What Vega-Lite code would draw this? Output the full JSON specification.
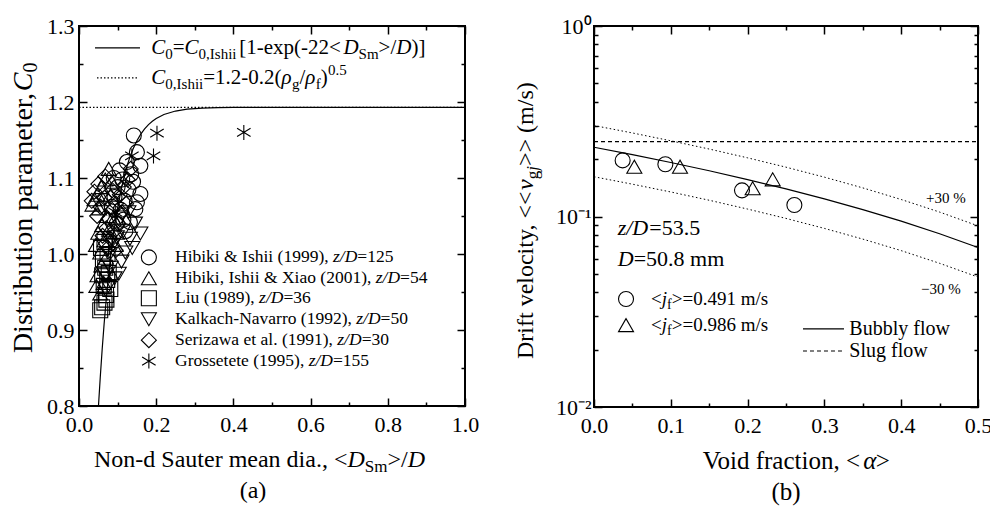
{
"$schema":"https://vega.github.io/schema/vega-lite/v6.json",
"background":"white",
"padding":{"left":8,"top":14,"right":5,"bottom":0},
"spacing":33,
"config":{
  "font":"Liberation Serif",
  "view":{"stroke":"black","strokeWidth":2},
  "axis":{"grid":false,"domain":false,"labelFont":"Liberation Serif","labelFontSize":22,"labelColor":"black","tickColor":"black","tickWidth":1.5,"labelFlush":false,"labelOverlap":false},
  "text":{"font":"Liberation Serif","color":"black"}
},
"datasets":{
  "curveA":[{"d":0.0505,"c0":0.8003},{"d":0.055,"c0":0.8372},{"d":0.06,"c0":0.8743},{"d":0.065,"c0":0.9075},{"d":0.07,"c0":0.9372},{"d":0.075,"c0":0.9639},{"d":0.08,"c0":0.9878},{"d":0.085,"c0":1.0092},{"d":0.09,"c0":1.0283},{"d":0.095,"c0":1.0454},{"d":0.1,"c0":1.0608},{"d":0.11,"c0":1.0869},{"d":0.12,"c0":1.1079},{"d":0.13,"c0":1.1246},{"d":0.14,"c0":1.1382},{"d":0.15,"c0":1.149},{"d":0.16,"c0":1.1577},{"d":0.17,"c0":1.1646},{"d":0.18,"c0":1.1703},{"d":0.19,"c0":1.1747},{"d":0.2,"c0":1.1783},{"d":0.22,"c0":1.1836},{"d":0.25,"c0":1.1881},{"d":0.28,"c0":1.1905},{"d":0.32,"c0":1.192},{"d":0.36,"c0":1.1926},{"d":0.4,"c0":1.1929},{"d":0.5,"c0":1.193},{"d":0.75,"c0":1.193},{"d":1.0,"c0":1.193}],
  "ishiiA":[{"d":0,"c0":1.193},{"d":1,"c0":1.193}],
  "keyA1":[{"d":0.0415,"d2":0.158,"c0":1.2711}],
  "keyA2":[{"d":0.0466,"d2":0.1554,"c0":1.2318}],
  "ptsA":[
    {"d":0.142,"c0":1.156,"src":"Hibiki & Ishii (1999)"},{"d":0.150,"c0":1.134,"src":"Hibiki & Ishii (1999)"},{"d":0.159,"c0":1.116,"src":"Hibiki & Ishii (1999)"},{"d":0.124,"c0":1.121,"src":"Hibiki & Ishii (1999)"},{"d":0.135,"c0":1.105,"src":"Hibiki & Ishii (1999)"},{"d":0.112,"c0":1.098,"src":"Hibiki & Ishii (1999)"},{"d":0.128,"c0":1.085,"src":"Hibiki & Ishii (1999)"},{"d":0.159,"c0":1.079,"src":"Hibiki & Ishii (1999)"},{"d":0.146,"c0":1.059,"src":"Hibiki & Ishii (1999)"},{"d":0.118,"c0":1.070,"src":"Hibiki & Ishii (1999)"},{"d":0.100,"c0":1.088,"src":"Hibiki & Ishii (1999)"},{"d":0.132,"c0":1.042,"src":"Hibiki & Ishii (1999)"},{"d":0.108,"c0":1.058,"src":"Hibiki & Ishii (1999)"},{"d":0.092,"c0":1.075,"src":"Hibiki & Ishii (1999)"},{"d":0.120,"c0":1.030,"src":"Hibiki & Ishii (1999)"},{"d":0.098,"c0":1.040,"src":"Hibiki & Ishii (1999)"},{"d":0.140,"c0":1.095,"src":"Hibiki & Ishii (1999)"},{"d":0.085,"c0":1.062,"src":"Hibiki & Ishii (1999)"},{"d":0.105,"c0":1.110,"src":"Hibiki & Ishii (1999)"},{"d":0.115,"c0":1.045,"src":"Hibiki & Ishii (1999)"},{"d":0.150,"c0":1.068,"src":"Hibiki & Ishii (1999)"},{"d":0.090,"c0":1.100,"src":"Hibiki & Ishii (1999)"},
    {"d":0.077,"c0":1.112,"src":"Hibiki, Ishii & Xiao (2001)"},{"d":0.068,"c0":1.098,"src":"Hibiki, Ishii & Xiao (2001)"},{"d":0.058,"c0":1.088,"src":"Hibiki, Ishii & Xiao (2001)"},{"d":0.048,"c0":1.078,"src":"Hibiki, Ishii & Xiao (2001)"},{"d":0.040,"c0":1.072,"src":"Hibiki, Ishii & Xiao (2001)"},{"d":0.035,"c0":1.065,"src":"Hibiki, Ishii & Xiao (2001)"},{"d":0.052,"c0":1.060,"src":"Hibiki, Ishii & Xiao (2001)"},{"d":0.062,"c0":1.072,"src":"Hibiki, Ishii & Xiao (2001)"},{"d":0.085,"c0":1.095,"src":"Hibiki, Ishii & Xiao (2001)"},{"d":0.072,"c0":1.050,"src":"Hibiki, Ishii & Xiao (2001)"},{"d":0.060,"c0":1.038,"src":"Hibiki, Ishii & Xiao (2001)"},{"d":0.050,"c0":1.028,"src":"Hibiki, Ishii & Xiao (2001)"},{"d":0.044,"c0":1.012,"src":"Hibiki, Ishii & Xiao (2001)"},{"d":0.055,"c0":1.002,"src":"Hibiki, Ishii & Xiao (2001)"},{"d":0.066,"c0":1.018,"src":"Hibiki, Ishii & Xiao (2001)"},{"d":0.078,"c0":1.032,"src":"Hibiki, Ishii & Xiao (2001)"},{"d":0.088,"c0":1.048,"src":"Hibiki, Ishii & Xiao (2001)"},{"d":0.058,"c0":0.985,"src":"Hibiki, Ishii & Xiao (2001)"},{"d":0.048,"c0":0.972,"src":"Hibiki, Ishii & Xiao (2001)"},{"d":0.070,"c0":0.995,"src":"Hibiki, Ishii & Xiao (2001)"},{"d":0.045,"c0":0.958,"src":"Hibiki, Ishii & Xiao (2001)"},{"d":0.055,"c0":0.948,"src":"Hibiki, Ishii & Xiao (2001)"},{"d":0.095,"c0":1.012,"src":"Hibiki, Ishii & Xiao (2001)"},{"d":0.082,"c0":1.078,"src":"Hibiki, Ishii & Xiao (2001)"},{"d":0.098,"c0":1.028,"src":"Hibiki, Ishii & Xiao (2001)"},{"d":0.064,"c0":0.962,"src":"Hibiki, Ishii & Xiao (2001)"},
    {"d":0.055,"c0":0.926,"src":"Liu (1989)"},{"d":0.060,"c0":0.930,"src":"Liu (1989)"},{"d":0.066,"c0":0.936,"src":"Liu (1989)"},{"d":0.081,"c0":0.954,"src":"Liu (1989)"},{"d":0.070,"c0":0.946,"src":"Liu (1989)"},{"d":0.064,"c0":0.958,"src":"Liu (1989)"},{"d":0.073,"c0":0.966,"src":"Liu (1989)"},{"d":0.060,"c0":0.972,"src":"Liu (1989)"},{"d":0.068,"c0":0.982,"src":"Liu (1989)"},{"d":0.062,"c0":0.993,"src":"Liu (1989)"},{"d":0.074,"c0":1.000,"src":"Liu (1989)"},{"d":0.057,"c0":1.008,"src":"Liu (1989)"},{"d":0.066,"c0":1.016,"src":"Liu (1989)"},{"d":0.071,"c0":0.940,"src":"Liu (1989)"},{"d":0.077,"c0":0.975,"src":"Liu (1989)"},
    {"d":0.159,"c0":1.027,"src":"Kalkach-Navarro (1992)"},{"d":0.145,"c0":1.040,"src":"Kalkach-Navarro (1992)"},{"d":0.132,"c0":1.020,"src":"Kalkach-Navarro (1992)"},{"d":0.120,"c0":1.002,"src":"Kalkach-Navarro (1992)"},{"d":0.110,"c0":0.990,"src":"Kalkach-Navarro (1992)"},{"d":0.103,"c0":0.974,"src":"Kalkach-Navarro (1992)"},{"d":0.092,"c0":0.968,"src":"Kalkach-Navarro (1992)"},{"d":0.082,"c0":0.982,"src":"Kalkach-Navarro (1992)"},{"d":0.088,"c0":1.012,"src":"Kalkach-Navarro (1992)"},{"d":0.098,"c0":1.022,"src":"Kalkach-Navarro (1992)"},{"d":0.076,"c0":0.958,"src":"Kalkach-Navarro (1992)"},{"d":0.115,"c0":1.030,"src":"Kalkach-Navarro (1992)"},{"d":0.108,"c0":1.048,"src":"Kalkach-Navarro (1992)"},{"d":0.138,"c0":1.008,"src":"Kalkach-Navarro (1992)"},{"d":0.128,"c0":1.055,"src":"Kalkach-Navarro (1992)"},{"d":0.068,"c0":0.972,"src":"Kalkach-Navarro (1992)"},{"d":0.080,"c0":1.000,"src":"Kalkach-Navarro (1992)"},
    {"d":0.047,"c0":1.050,"src":"Serizawa et al. (1991)"},{"d":0.056,"c0":1.062,"src":"Serizawa et al. (1991)"},{"d":0.066,"c0":1.074,"src":"Serizawa et al. (1991)"},{"d":0.076,"c0":1.046,"src":"Serizawa et al. (1991)"},{"d":0.086,"c0":1.058,"src":"Serizawa et al. (1991)"},{"d":0.096,"c0":1.066,"src":"Serizawa et al. (1991)"},{"d":0.106,"c0":1.078,"src":"Serizawa et al. (1991)"},{"d":0.116,"c0":1.088,"src":"Serizawa et al. (1991)"},{"d":0.126,"c0":1.098,"src":"Serizawa et al. (1991)"},{"d":0.102,"c0":1.040,"src":"Serizawa et al. (1991)"},{"d":0.091,"c0":1.030,"src":"Serizawa et al. (1991)"},{"d":0.081,"c0":1.020,"src":"Serizawa et al. (1991)"},{"d":0.071,"c0":1.034,"src":"Serizawa et al. (1991)"},{"d":0.061,"c0":1.024,"src":"Serizawa et al. (1991)"},{"d":0.111,"c0":1.055,"src":"Serizawa et al. (1991)"},{"d":0.122,"c0":1.066,"src":"Serizawa et al. (1991)"},{"d":0.040,"c0":1.082,"src":"Serizawa et al. (1991)"},{"d":0.050,"c0":1.092,"src":"Serizawa et al. (1991)"},{"d":0.068,"c0":1.102,"src":"Serizawa et al. (1991)"},{"d":0.086,"c0":1.084,"src":"Serizawa et al. (1991)"},{"d":0.033,"c0":1.070,"src":"Serizawa et al. (1991)"},{"d":0.134,"c0":1.112,"src":"Serizawa et al. (1991)"},{"d":0.075,"c0":1.008,"src":"Serizawa et al. (1991)"},{"d":0.095,"c0":1.005,"src":"Serizawa et al. (1991)"},
    {"d":0.137,"c0":1.129,"src":"Grossetete (1995)"},{"d":0.202,"c0":1.159,"src":"Grossetete (1995)"},{"d":0.193,"c0":1.129,"src":"Grossetete (1995)"},{"d":0.427,"c0":1.160,"src":"Grossetete (1995)"},{"d":0.094,"c0":1.055,"src":"Grossetete (1995)"}
  ],
  "legA":[
    {"d":0.181,"c0":0.9955,"src":"Hibiki & Ishii (1999)"},{"d":0.181,"c0":0.968,"src":"Hibiki, Ishii & Xiao (2001)"},{"d":0.181,"c0":0.9417,"src":"Liu (1989)"},{"d":0.181,"c0":0.9142,"src":"Kalkach-Navarro (1992)"},{"d":0.181,"c0":0.8866,"src":"Serizawa et al. (1991)"},{"d":0.181,"c0":0.8591,"src":"Grossetete (1995)"}
  ],
  "fNorm":[{"d":0.243,"c0":1.2711,"t":"="},{"d":0.415,"c0":1.2711,"t":"[1-exp(-22<"},{"d":0.7762,"c0":1.2711,"t":">/"},{"d":0.8614,"c0":1.2711,"t":")]"},{"d":0.3218,"c0":1.2318,"t":"=1.2-0.2("},{"d":0.5713,"c0":1.2318,"t":"/"},{"d":0.6264,"c0":1.2318,"t":")"}],
  "fItal":[{"d":0.1873,"c0":1.2711,"t":"C"},{"d":0.2736,"c0":1.2711,"t":"C"},{"d":0.685,"c0":1.2711,"t":"D"},{"d":0.822,"c0":1.2711,"t":"D"},{"d":0.1873,"c0":1.2318,"t":"C"},{"d":0.5246,"c0":1.2318,"t":"ρ"},{"d":0.5863,"c0":1.2318,"t":"ρ"}],
  "fSub":[{"d":0.2236,"c0":1.2711,"t":"0"},{"d":0.3098,"c0":1.2711,"t":"0,Ishii"},{"d":0.7244,"c0":1.2711,"t":"Sm"},{"d":0.2236,"c0":1.2318,"t":"0,Ishii"},{"d":0.5518,"c0":1.2318,"t":"g"},{"d":0.6135,"c0":1.2318,"t":"f"}],
  "fSup":[{"d":0.6451,"c0":1.2318,"t":"0.5"}],
  "lgNorm":[{"d":0.2487,"c0":0.9955,"t":"Hibiki & Ishii (1999),"},{"d":0.721,"c0":0.9955,"t":"=125"},{"d":0.2487,"c0":0.968,"t":"Hibiki, Ishii & Xiao (2001),"},{"d":0.8319,"c0":0.968,"t":"=54"},{"d":0.2487,"c0":0.9417,"t":"Liu (1989),"},{"d":0.5296,"c0":0.9417,"t":"=36"},{"d":0.2487,"c0":0.9142,"t":"Kalkach-Navarro (1992),"},{"d":0.7812,"c0":0.9142,"t":"=50"},{"d":0.2487,"c0":0.8866,"t":"Serizawa et al. (1991),"},{"d":0.7322,"c0":0.8866,"t":"=30"},{"d":0.2487,"c0":0.8591,"t":"Grossetete (1995),"},{"d":0.6579,"c0":0.8591,"t":"=155"}],
  "lgItal":[{"d":0.658,"c0":0.9955,"t":"z/D"},{"d":0.7689,"c0":0.968,"t":"z/D"},{"d":0.4666,"c0":0.9417,"t":"z/D"},{"d":0.7182,"c0":0.9142,"t":"z/D"},{"d":0.6692,"c0":0.8866,"t":"z/D"},{"d":0.5949,"c0":0.8591,"t":"z/D"}],
  "axA":[{"d":0.0389,"c0":0.7291,"t":"Non-d Sauter mean dia., <"},{"d":0.7992,"c0":0.7291,"t":">/"}],
  "axAItal":[{"d":0.6956,"c0":0.7291,"t":"D"},{"d":0.8516,"c0":0.7291,"t":"D"}],
  "axASub":[{"d":0.7405,"c0":0.7291,"t":"Sm"}],
  "capA":[{"d":0.4508,"c0":0.6885,"t":"(a)"}],
  "yA":[{"d":-0.1425,"c0":0.8696,"t":"Distribution parameter,"}],
  "yAItal":[{"d":-0.1425,"c0":1.2143,"t":"C"}],
  "yASub":[{"d":-0.1425,"c0":1.2388,"t":"0"}],
  "bubbly":[{"a":0,"v":0.231},{"a":0.05,"v":0.2112},{"a":0.1,"v":0.1921},{"a":0.15,"v":0.1738},{"a":0.2,"v":0.1563},{"a":0.25,"v":0.1396},{"a":0.3,"v":0.1237},{"a":0.35,"v":0.1087},{"a":0.4,"v":0.0945},{"a":0.45,"v":0.0812},{"a":0.5,"v":0.0687}],
  "slug":[{"a":0,"v":0.247},{"a":0.5,"v":0.247}],
  "bandB":[
    {"a":0,"v":0.3003,"b":"+30%"},{"a":0.05,"v":0.2745,"b":"+30%"},{"a":0.1,"v":0.2497,"b":"+30%"},{"a":0.15,"v":0.226,"b":"+30%"},{"a":0.2,"v":0.2032,"b":"+30%"},{"a":0.25,"v":0.1815,"b":"+30%"},{"a":0.3,"v":0.1609,"b":"+30%"},{"a":0.35,"v":0.1413,"b":"+30%"},{"a":0.4,"v":0.1228,"b":"+30%"},{"a":0.45,"v":0.1055,"b":"+30%"},{"a":0.5,"v":0.0893,"b":"+30%"},
    {"a":0,"v":0.1617,"b":"-30%"},{"a":0.05,"v":0.1478,"b":"-30%"},{"a":0.1,"v":0.1345,"b":"-30%"},{"a":0.15,"v":0.1217,"b":"-30%"},{"a":0.2,"v":0.1094,"b":"-30%"},{"a":0.25,"v":0.0977,"b":"-30%"},{"a":0.3,"v":0.0866,"b":"-30%"},{"a":0.35,"v":0.0761,"b":"-30%"},{"a":0.4,"v":0.0662,"b":"-30%"},{"a":0.45,"v":0.0568,"b":"-30%"},{"a":0.5,"v":0.0481,"b":"-30%"}
  ],
  "ptsB":[{"a":0.0373,"v":0.197,"jf":"0.491"},{"a":0.0929,"v":0.188,"jf":"0.491"},{"a":0.1927,"v":0.1372,"jf":"0.491"},{"a":0.2609,"v":0.1149,"jf":"0.491"},{"a":0.0525,"v":0.1826,"jf":"0.986"},{"a":0.112,"v":0.1826,"jf":"0.986"},{"a":0.2066,"v":0.1406,"jf":"0.986"},{"a":0.2327,"v":0.1567,"jf":"0.986"}],
  "legB":[{"a":0.0417,"v":0.0369,"jf":"0.491"},{"a":0.0417,"v":0.0269,"jf":"0.986"}],
  "keyB1":[{"a":0.2721,"a2":0.3255,"v":0.0257}],
  "keyB2":[{"a":0.2721,"a2":0.3255,"v":0.01968}],
  "annB":[{"a":0.072,"v":0.087,"t":"=53.5"},{"a":0.0516,"v":0.0598,"t":"=50.8 mm"}],
  "annBItal":[{"a":0.0308,"v":0.087,"t":"z/D"},{"a":0.0308,"v":0.0598,"t":"D"}],
  "lgBNorm":[{"a":0.0742,"v":0.0369,"t":"<"},{"a":0.1012,"v":0.0369,"t":">=0.491 m/s"},{"a":0.0742,"v":0.0269,"t":"<"},{"a":0.1012,"v":0.0269,"t":">=0.986 m/s"}],
  "lgBItal":[{"a":0.0882,"v":0.0369,"t":"j"},{"a":0.0882,"v":0.0269,"t":"j"}],
  "lgBSub":[{"a":0.0951,"v":0.0369,"t":"f"},{"a":0.0951,"v":0.0269,"t":"f"}],
  "flowB":[{"a":0.3325,"v":0.0257,"t":"Bubbly flow"},{"a":0.3325,"v":0.01968,"t":"Slug flow"}],
  "pctB":[{"a":0.4323,"v":0.125,"t":"+30 %"},{"a":0.4258,"v":0.0415,"t":"−30 %"}],
  "axB":[{"a":0.1415,"v":0.005206,"t":"Void fraction, <"},{"a":0.3669,"v":0.005206,"t":">"}],
  "axBItal":[{"a":0.3507,"v":0.005206,"t":"α"}],
  "capB":[{"a":0.25,"v":0.00358,"t":"(b)"}],
  "yB":[{"a":-0.0885,"v":0.01786,"t":"Drift velocity, <<"},{"a":-0.0885,"v":0.1841,"t":">> (m/s)"}],
  "yBItal":[{"a":-0.0885,"v":0.1377,"t":"v"}],
  "yBSub":[{"a":-0.0885,"v":0.1568,"t":"g"}],
  "yBSubItal":[{"a":-0.0885,"v":0.1738,"t":"j"}]
},
"hconcat":[
 {
  "width":386,"height":380,
  "resolve":{"axis":{"x":"independent","y":"independent"}},
  "encoding":{
    "x":{"field":"d","type":"quantitative","scale":{"domain":[0,1],"nice":false,"zero":false},"axis":null},
    "y":{"field":"c0","type":"quantitative","scale":{"domain":[0.8,1.3],"nice":false,"zero":false},"axis":null}
  },
  "layer":[
   {"data":{"name":"curveA"},"mark":{"type":"line","color":"black","strokeWidth":1.2,"clip":true},
    "encoding":{
     "x":{"field":"d","type":"quantitative","scale":{"domain":[0,1],"nice":false,"zero":false},"axis":{"orient":"bottom","title":null,"labelFont":"Liberation Serif","labelFontSize":22,"values":[0,0.1,0.2,0.3,0.4,0.5,0.6,0.7,0.8,0.9,1],"labelExpr":"round(datum.value*10)%2==0 ? format(datum.value,'.1f') : ''","tickSize":{"condition":{"test":"round(datum.value*10)%2==0","value":-8},"value":-4},"labelPadding":16}},
     "y":{"field":"c0","type":"quantitative","scale":{"domain":[0.8,1.3],"nice":false,"zero":false},"axis":{"orient":"left","title":null,"labelFont":"Liberation Serif","labelFontSize":22,"values":[0.8,0.85,0.9,0.95,1,1.05,1.1,1.15,1.2,1.25,1.3],"labelExpr":"round(datum.value*20)%2==0 ? format(datum.value,'.1f') : ''","tickSize":{"condition":{"test":"round(datum.value*20)%2==0","value":-8},"value":-4},"labelPadding":13}}
    }},
   {"data":{"name":"ishiiA"},"mark":{"type":"line","color":"black","strokeWidth":1.2,"strokeDash":[1.5,2]},
    "encoding":{
     "x":{"field":"d","type":"quantitative","scale":{"domain":[0,1],"nice":false,"zero":false},"axis":{"orient":"top","title":null,"labels":false,"values":[0,0.1,0.2,0.3,0.4,0.5,0.6,0.7,0.8,0.9,1],"tickSize":{"condition":{"test":"round(datum.value*10)%2==0","value":-8},"value":-4}}},
     "y":{"field":"c0","type":"quantitative","scale":{"domain":[0.8,1.3],"nice":false,"zero":false},"axis":{"orient":"right","title":null,"labels":false,"values":[0.8,0.85,0.9,0.95,1,1.05,1.1,1.15,1.2,1.25,1.3],"tickSize":{"condition":{"test":"round(datum.value*20)%2==0","value":-8},"value":-4}}}
    }},
   {"data":{"name":"ptsA"},"mark":{"type":"point","filled":false,"color":"black","strokeWidth":1.1,"size":225,"opacity":1},
    "encoding":{"shape":{"field":"src","type":"nominal","legend":null,"scale":{"domain":["Hibiki & Ishii (1999)","Hibiki, Ishii & Xiao (2001)","Liu (1989)","Kalkach-Navarro (1992)","Serizawa et al. (1991)","Grossetete (1995)"],"range":["circle","triangle-up","square","triangle-down","diamond","M0,-1L0,1M-0.9,-0.55L0.9,0.55M-0.9,0.55L0.9,-0.55"]}}}},
   {"data":{"name":"legA"},"mark":{"type":"point","filled":false,"color":"black","strokeWidth":1.1,"size":225,"opacity":1},
    "encoding":{"shape":{"field":"src","type":"nominal","legend":null,"scale":{"domain":["Hibiki & Ishii (1999)","Hibiki, Ishii & Xiao (2001)","Liu (1989)","Kalkach-Navarro (1992)","Serizawa et al. (1991)","Grossetete (1995)"],"range":["circle","triangle-up","square","triangle-down","diamond","M0,-1L0,1M-0.9,-0.55L0.9,0.55M-0.9,0.55L0.9,-0.55"]}}}},
   {"data":{"name":"keyA1"},"mark":{"type":"rule","color":"black","strokeWidth":1.2},"encoding":{"x2":{"field":"d2"}}},
   {"data":{"name":"keyA2"},"mark":{"type":"rule","color":"black","strokeWidth":1.2,"strokeDash":[1.5,2]},"encoding":{"x2":{"field":"d2"}}},
   {"data":{"name":"fNorm"},"mark":{"type":"text","font":"Liberation Serif","align":"left","baseline":"middle","fontSize":21},"encoding":{"text":{"field":"t","type":"nominal"}}},
   {"data":{"name":"fItal"},"mark":{"type":"text","font":"Liberation Serif","align":"left","baseline":"middle","fontSize":21,"fontStyle":"italic"},"encoding":{"text":{"field":"t","type":"nominal"}}},
   {"data":{"name":"fSub"},"mark":{"type":"text","font":"Liberation Serif","align":"left","baseline":"middle","fontSize":15,"dy":6},"encoding":{"text":{"field":"t","type":"nominal"}}},
   {"data":{"name":"fSup"},"mark":{"type":"text","font":"Liberation Serif","align":"left","baseline":"middle","fontSize":15,"dy":-8},"encoding":{"text":{"field":"t","type":"nominal"}}},
   {"data":{"name":"lgNorm"},"mark":{"type":"text","font":"Liberation Serif","align":"left","baseline":"middle","fontSize":17.5},"encoding":{"text":{"field":"t","type":"nominal"}}},
   {"data":{"name":"lgItal"},"mark":{"type":"text","font":"Liberation Serif","align":"left","baseline":"middle","fontSize":17.5,"fontStyle":"italic"},"encoding":{"text":{"field":"t","type":"nominal"}}},
   {"data":{"name":"axA"},"mark":{"type":"text","font":"Liberation Serif","align":"left","baseline":"middle","fontSize":24},"encoding":{"text":{"field":"t","type":"nominal"}}},
   {"data":{"name":"axAItal"},"mark":{"type":"text","font":"Liberation Serif","align":"left","baseline":"middle","fontSize":24,"fontStyle":"italic"},"encoding":{"text":{"field":"t","type":"nominal"}}},
   {"data":{"name":"axASub"},"mark":{"type":"text","font":"Liberation Serif","align":"left","baseline":"middle","fontSize":17,"dy":7},"encoding":{"text":{"field":"t","type":"nominal"}}},
   {"data":{"name":"capA"},"mark":{"type":"text","font":"Liberation Serif","align":"center","baseline":"middle","fontSize":24},"encoding":{"text":{"field":"t","type":"nominal"}}},
   {"data":{"name":"yA"},"mark":{"type":"text","font":"Liberation Serif","align":"left","baseline":"middle","fontSize":28,"angle":270},"encoding":{"text":{"field":"t","type":"nominal"}}},
   {"data":{"name":"yAItal"},"mark":{"type":"text","font":"Liberation Serif","align":"left","baseline":"middle","fontSize":28,"angle":270,"fontStyle":"italic"},"encoding":{"text":{"field":"t","type":"nominal"}}},
   {"data":{"name":"yASub"},"mark":{"type":"text","font":"Liberation Serif","align":"left","baseline":"middle","fontSize":20,"angle":270,"dy":7},"encoding":{"text":{"field":"t","type":"nominal"}}}
  ]
 },
 {
  "width":384,"height":381,
  "resolve":{"axis":{"x":"independent","y":"independent"}},
  "encoding":{
    "x":{"field":"a","type":"quantitative","scale":{"domain":[0,0.5],"nice":false,"zero":false},"axis":null},
    "y":{"field":"v","type":"quantitative","scale":{"type":"log","domain":[0.01,1],"nice":false},"axis":null}
  },
  "layer":[
   {"data":{"name":"bubbly"},"mark":{"type":"line","color":"black","strokeWidth":1.2},
    "encoding":{
     "x":{"field":"a","type":"quantitative","scale":{"domain":[0,0.5],"nice":false,"zero":false},"axis":{"orient":"bottom","title":null,"labelFont":"Liberation Serif","labelFontSize":22,"values":[0,0.05,0.1,0.15,0.2,0.25,0.3,0.35,0.4,0.45,0.5],"labelExpr":"round(datum.value*20)%2==0 ? format(datum.value,'.1f') : ''","tickSize":{"condition":{"test":"round(datum.value*20)%2==0","value":-8},"value":-4},"labelPadding":16}},
     "y":{"field":"v","type":"quantitative","scale":{"type":"log","domain":[0.01,1],"nice":false},"axis":{"orient":"left","title":null,"labelFont":"Liberation Serif","labelFontSize":22,"values":[0.01,0.02,0.03,0.04,0.05,0.06,0.07,0.08,0.09,0.1,0.2,0.3,0.4,0.5,0.6,0.7,0.8,0.9,1],"labelExpr":"datum.value == 1 ? '10⁰' : (datum.value == 0.1 ? '10⁻¹' : (datum.value == 0.01 ? '10⁻²' : ''))","tickSize":{"condition":{"test":"abs(log(datum.value)/LN10 - round(log(datum.value)/LN10)) < 0.001","value":-8},"value":-4},"labelPadding":11}}
    }},
   {"data":{"name":"slug"},"mark":{"type":"line","color":"black","strokeWidth":1.2,"strokeDash":[4,3]},
    "encoding":{
     "x":{"field":"a","type":"quantitative","scale":{"domain":[0,0.5],"nice":false,"zero":false},"axis":{"orient":"top","title":null,"labels":false,"values":[0,0.05,0.1,0.15,0.2,0.25,0.3,0.35,0.4,0.45,0.5],"tickSize":{"condition":{"test":"round(datum.value*20)%2==0","value":-8},"value":-4}}},
     "y":{"field":"v","type":"quantitative","scale":{"type":"log","domain":[0.01,1],"nice":false},"axis":{"orient":"right","title":null,"labels":false,"values":[0.01,0.02,0.03,0.04,0.05,0.06,0.07,0.08,0.09,0.1,0.2,0.3,0.4,0.5,0.6,0.7,0.8,0.9,1],"tickSize":{"condition":{"test":"abs(log(datum.value)/LN10 - round(log(datum.value)/LN10)) < 0.001","value":-8},"value":-4}}}
    }},
   {"data":{"name":"bandB"},"mark":{"type":"line","color":"black","strokeWidth":1,"strokeDash":[1.5,2.5]},
    "encoding":{"detail":{"field":"b","type":"nominal"}}},
   {"data":{"name":"ptsB"},"mark":{"type":"point","filled":false,"color":"black","strokeWidth":1.1,"size":225,"opacity":1},
    "encoding":{"shape":{"field":"jf","type":"nominal","legend":null,"scale":{"domain":["0.491","0.986"],"range":["circle","triangle-up"]}}}},
   {"data":{"name":"legB"},"mark":{"type":"point","filled":false,"color":"black","strokeWidth":1.1,"size":225,"opacity":1},
    "encoding":{"shape":{"field":"jf","type":"nominal","legend":null,"scale":{"domain":["0.491","0.986"],"range":["circle","triangle-up"]}}}},
   {"data":{"name":"keyB1"},"mark":{"type":"rule","color":"black","strokeWidth":1.2},"encoding":{"x2":{"field":"a2"}}},
   {"data":{"name":"keyB2"},"mark":{"type":"rule","color":"black","strokeWidth":1.2,"strokeDash":[4,3]},"encoding":{"x2":{"field":"a2"}}},
   {"data":{"name":"annB"},"mark":{"type":"text","font":"Liberation Serif","align":"left","baseline":"middle","fontSize":22},"encoding":{"text":{"field":"t","type":"nominal"}}},
   {"data":{"name":"annBItal"},"mark":{"type":"text","font":"Liberation Serif","align":"left","baseline":"middle","fontSize":22,"fontStyle":"italic"},"encoding":{"text":{"field":"t","type":"nominal"}}},
   {"data":{"name":"lgBNorm"},"mark":{"type":"text","font":"Liberation Serif","align":"left","baseline":"middle","fontSize":19},"encoding":{"text":{"field":"t","type":"nominal"}}},
   {"data":{"name":"lgBItal"},"mark":{"type":"text","font":"Liberation Serif","align":"left","baseline":"middle","fontSize":19,"fontStyle":"italic"},"encoding":{"text":{"field":"t","type":"nominal"}}},
   {"data":{"name":"lgBSub"},"mark":{"type":"text","font":"Liberation Serif","align":"left","baseline":"middle","fontSize":14,"dy":6},"encoding":{"text":{"field":"t","type":"nominal"}}},
   {"data":{"name":"flowB"},"mark":{"type":"text","font":"Liberation Serif","align":"left","baseline":"middle","fontSize":20},"encoding":{"text":{"field":"t","type":"nominal"}}},
   {"data":{"name":"pctB"},"mark":{"type":"text","font":"Liberation Serif","align":"left","baseline":"middle","fontSize":15},"encoding":{"text":{"field":"t","type":"nominal"}}},
   {"data":{"name":"axB"},"mark":{"type":"text","font":"Liberation Serif","align":"left","baseline":"middle","fontSize":25},"encoding":{"text":{"field":"t","type":"nominal"}}},
   {"data":{"name":"axBItal"},"mark":{"type":"text","font":"Liberation Serif","align":"left","baseline":"middle","fontSize":25,"fontStyle":"italic"},"encoding":{"text":{"field":"t","type":"nominal"}}},
   {"data":{"name":"capB"},"mark":{"type":"text","font":"Liberation Serif","align":"center","baseline":"middle","fontSize":25},"encoding":{"text":{"field":"t","type":"nominal"}}},
   {"data":{"name":"yB"},"mark":{"type":"text","font":"Liberation Serif","align":"left","baseline":"middle","fontSize":24,"angle":270},"encoding":{"text":{"field":"t","type":"nominal"}}},
   {"data":{"name":"yBItal"},"mark":{"type":"text","font":"Liberation Serif","align":"left","baseline":"middle","fontSize":24,"angle":270,"fontStyle":"italic"},"encoding":{"text":{"field":"t","type":"nominal"}}},
   {"data":{"name":"yBSub"},"mark":{"type":"text","font":"Liberation Serif","align":"left","baseline":"middle","fontSize":17,"angle":270,"dy":7},"encoding":{"text":{"field":"t","type":"nominal"}}},
   {"data":{"name":"yBSubItal"},"mark":{"type":"text","font":"Liberation Serif","align":"left","baseline":"middle","fontSize":17,"angle":270,"dy":7,"fontStyle":"italic"},"encoding":{"text":{"field":"t","type":"nominal"}}}
  ]
 }
]
}
